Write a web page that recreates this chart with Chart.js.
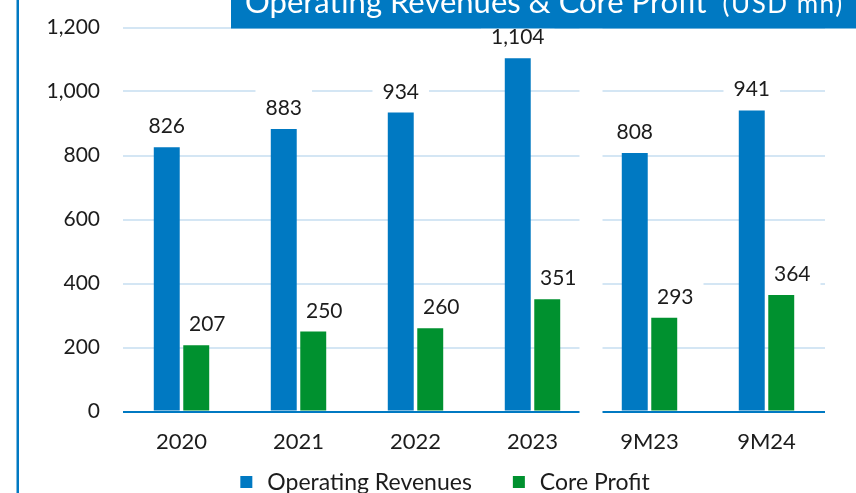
<!DOCTYPE html>
<html>
<head>
<meta charset="utf-8">
<title>Operating Revenues &amp; Core Profit</title>
<script src="https://cdn.jsdelivr.net/npm/chart.js"></script>
<style>
	html, body { margin: 0; padding: 0; background: #fff; }
	#wrap { width: 856px; height: 493px; }
</style>
</head>
<body>
<div id="wrap"><canvas id="generatedChart" width="856" height="493"></canvas></div>
<script>
//chart data
var chart_labels = ['2020', '2021', '2022', '2023', '9M23', '9M24'];
var revenue_data = [826, 883, 934, 1104, 808, 941];
var profit_data = [207, 250, 260, 351, 293, 364];
var y_ticks = [0, 200, 400, 600, 800, 1000, 1200];
var series_names = ['Operating Revenues', 'Core Profit'];
var chart_title = 'Operating Revenues & Core Profit';
var title_unit = '(USD mn)';

//colors & fonts
var blue = '#0079c2';
var green = '#00912f';
var grid_blue = '#d4e6f4';
var text_color = '#1c1c1c';
var font_family = 'Lato, "Open Sans", sans-serif';

//formats numbers with thousands separator
function fmt(v) {
	return Number(v).toLocaleString('en-US');
}

//white gap that splits the full years from the 9M periods
var gapPlugin = {
	id: 'gapPlugin',
	beforeDatasetsDraw: function(chart) {
		var ctx = chart.ctx;
		var x = chart.scales.x;
		var mid = (x.getPixelForValue(3) + x.getPixelForValue(4)) / 2;
		ctx.save();
		ctx.fillStyle = '#fff';
		ctx.fillRect(mid - 11.5, 0, 23, chart.chartArea.bottom + 4);
		ctx.restore();
	}
};

//data labels with a white box behind them (hides the gridlines)
//core profit labels sit a little to the right of their bars
function eachLabel(chart, fn) {
	chart.data.datasets.forEach(function(ds, d) {
		var meta = chart.getDatasetMeta(d);
		var shift = d == 1 ? 11 : 0;
		meta.data.forEach(function(bar, i) {
			fn(fmt(ds.data[i]), bar.x + shift, bar.y - 14);
		});
	});
}

var labelPlugin = {
	id: 'labelPlugin',
	beforeDatasetsDraw: function(chart) {
		var ctx = chart.ctx;
		ctx.save();
		ctx.font = '21px ' + font_family;
		ctx.fillStyle = '#fff';
		eachLabel(chart, function(txt, x, y) {
			var w = ctx.measureText(txt).width;
			ctx.fillRect(x - w / 2 - 10, y - 26, w + 20, 32);
		});
		ctx.restore();
	},
	afterDatasetsDraw: function(chart) {
		var ctx = chart.ctx;
		ctx.save();
		ctx.font = '21px ' + font_family;
		ctx.fillStyle = text_color;
		ctx.textAlign = 'center';
		ctx.textBaseline = 'alphabetic';
		eachLabel(chart, function(txt, x, y) {
			ctx.fillText(txt, x, y);
		});
		ctx.restore();
	}
};

//legend under the axis (square swatch + name)
var legendPlugin = {
	id: 'legendPlugin',
	afterDraw: function(chart) {
		var ctx = chart.ctx;
		var sets = chart.data.datasets;
		var y = 482;
		ctx.save();
		ctx.font = '23px ' + font_family;
		ctx.textBaseline = 'middle';
		var total = 0;
		sets.forEach(function(ds, i) {
			total += 12 + 15 + ctx.measureText(ds.label).width + (i > 0 ? 41 : 0);
		});
		var x = 445 - total / 2;
		sets.forEach(function(ds) {
			ctx.fillStyle = ds.backgroundColor;
			ctx.fillRect(x, y - 6, 12, 12);
			ctx.fillStyle = text_color;
			ctx.fillText(ds.label, x + 27, y + 1);
			x += 27 + ctx.measureText(ds.label).width + 41;
		});
		ctx.restore();
	}
};

//left border line and the title banner
var framePlugin = {
	id: 'framePlugin',
	afterDraw: function(chart) {
		var ctx = chart.ctx;
		ctx.save();
		ctx.fillStyle = blue;
		ctx.fillRect(16.5, 0, 2.5, chart.height);
		ctx.fillRect(231, 0, chart.width - 231, 28.5);

		ctx.fillStyle = '#fff';
		ctx.textBaseline = 'alphabetic';
		ctx.font = '31px ' + font_family;
		ctx.fillText(chart_title, 245, 13);
		var w = ctx.measureText(chart_title).width;
		ctx.font = '26px ' + font_family;
		ctx.letterSpacing = '1.5px';
		ctx.fillText(title_unit, 245 + w + 16, 13);
		ctx.restore();
	}
};

var myChart = new Chart(document.getElementById('generatedChart'), {
	type: 'bar',
	data: {
		labels: chart_labels,
		datasets: [{
			label: series_names[0],
			data: revenue_data,
			backgroundColor: blue,
			categoryPercentage: 0.504,
			barPercentage: 0.88
		}, {
			label: series_names[1],
			data: profit_data,
			backgroundColor: green,
			categoryPercentage: 0.504,
			barPercentage: 0.88
		}]
	},
	options: {
		responsive: false,
		animation: false,
		layout: {
			padding: { left: 35, right: 31, top: 27.5, bottom: 41.5 }
		},
		plugins: {
			legend: { display: false },
			tooltip: { enabled: false }
		},
		scales: {
			x: {
				grid: { display: false, drawTicks: false },
				border: { display: false },
				ticks: {
					color: text_color,
					padding: 17,
					font: { family: font_family, size: 22 }
				},
				afterFit: function(axis) { axis.height = 40; }
			},
			y: {
				min: 0,
				max: 1200,
				afterBuildTicks: function(axis) {
					axis.ticks = y_ticks.map(function(v) { return { value: v }; });
				},
				grid: {
					drawTicks: false,
					lineWidth: 2,
					color: function(c) { return c.tick && c.tick.value === 0 ? blue : grid_blue; }
				},
				border: { display: false },
				ticks: {
					color: text_color,
					padding: 23,
					font: { family: font_family, size: 21 },
					callback: function(v) { return fmt(v); }
				},
				afterFit: function(axis) {
					axis.width = 88;
					//tick padding would otherwise push the plot area down
					axis.paddingTop = 0;
					axis.paddingBottom = 0;
				}
			}
		}
	},
	plugins: [gapPlugin, labelPlugin, legendPlugin, framePlugin]
});
</script>
</body>
</html>
